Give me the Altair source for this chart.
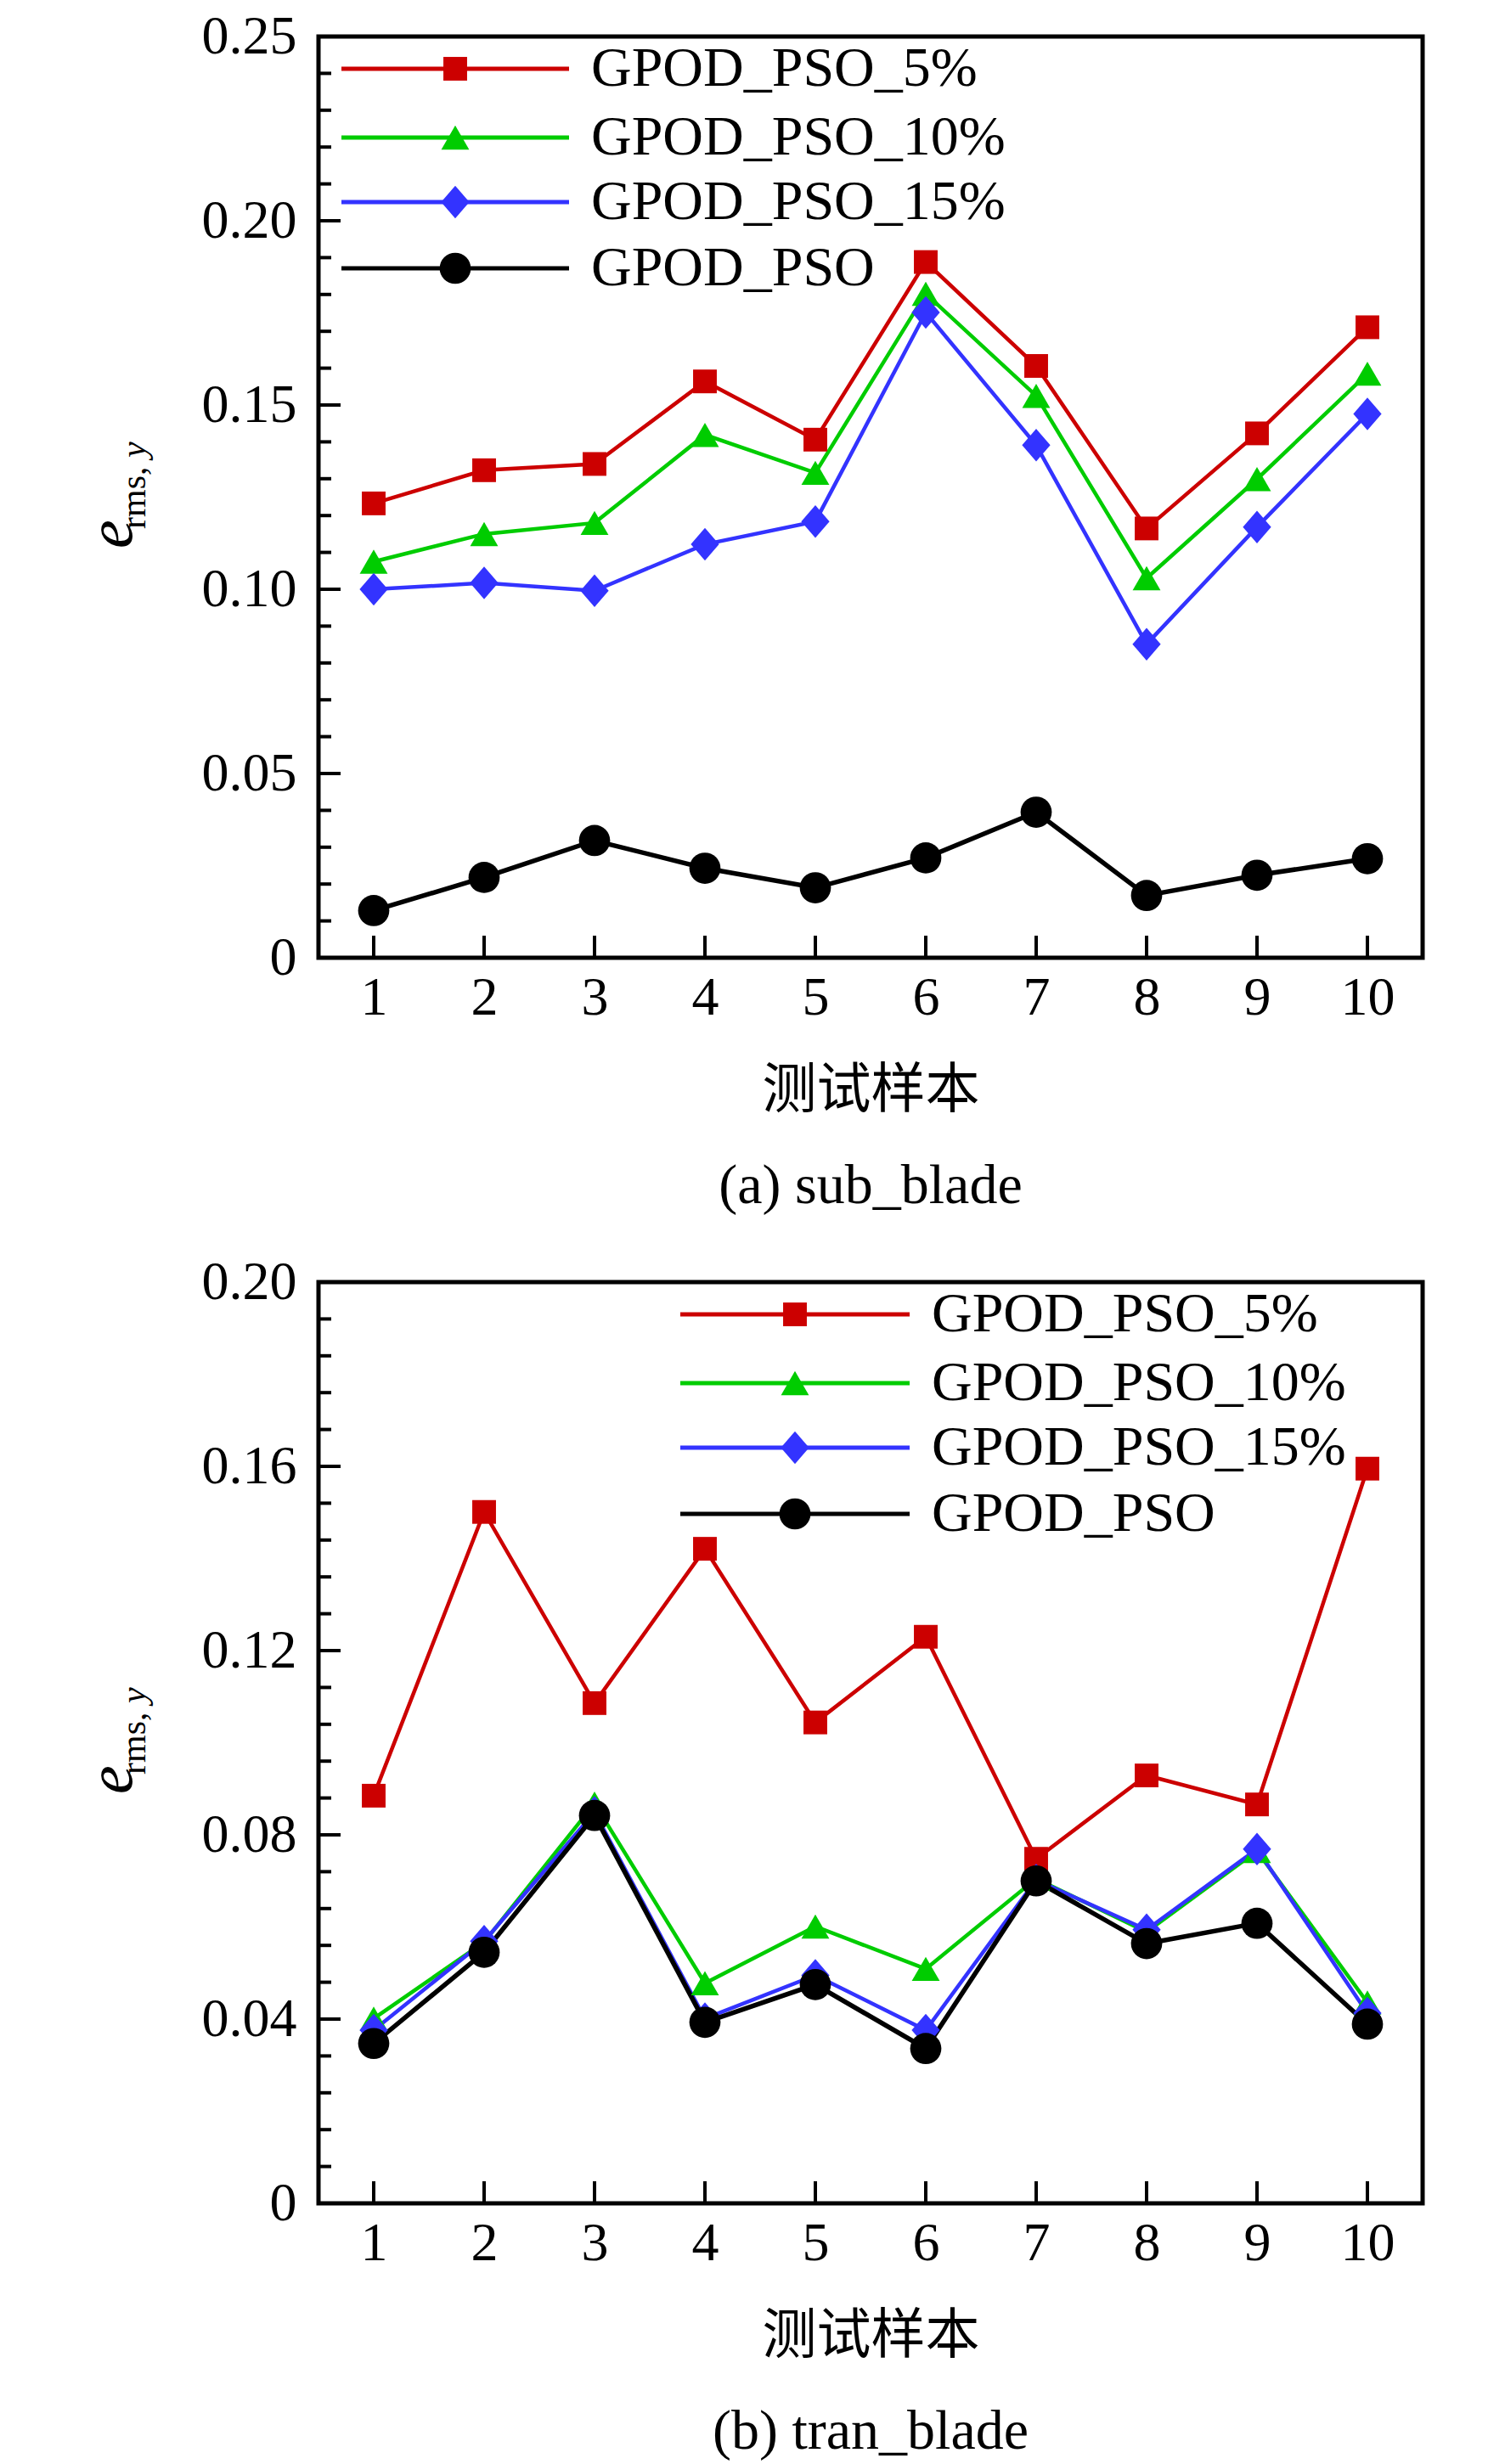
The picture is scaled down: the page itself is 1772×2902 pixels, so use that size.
import altair as alt
import pandas as pd

# ---------------- data ----------------
SAMPLES = [1, 2, 3, 4, 5, 6, 7, 8, 9, 10]
SERIES = ["GPOD_PSO_5%", "GPOD_PSO_10%", "GPOD_PSO_15%", "GPOD_PSO"]

# (a) sub_blade
A_5 = [0.1233, 0.1323, 0.1340, 0.1564, 0.1406, 0.1888, 0.1606, 0.1165, 0.1423, 0.1711]
A_10 = [0.1075, 0.1150, 0.1180, 0.1419, 0.1316, 0.1802, 0.1525, 0.1030, 0.1299, 0.1585]
A_15 = [0.1000, 0.1017, 0.0996, 0.1122, 0.1184, 0.1751, 0.1391, 0.0851, 0.1169, 0.1476]
A_0 = [0.0128, 0.0218, 0.0318, 0.0243, 0.0190, 0.0271, 0.0395, 0.0169, 0.0224, 0.0269]

# (b) tran_blade
B_5 = [0.0885, 0.1501, 0.1086, 0.1421, 0.1044, 0.1230, 0.0748, 0.0929, 0.0866, 0.1595]
B_10 = [0.0401, 0.0567, 0.0868, 0.0478, 0.0601, 0.0509, 0.0705, 0.0589, 0.0765, 0.0436]
B_15 = [0.0376, 0.0569, 0.0849, 0.0401, 0.0495, 0.0376, 0.0702, 0.0594, 0.0769, 0.0413]
B_0 = [0.0347, 0.0545, 0.0842, 0.0393, 0.0475, 0.0336, 0.0700, 0.0564, 0.0608, 0.0389]

A_MAJOR = [0, 0.05, 0.10, 0.15, 0.20, 0.25]
A_MINOR = [0.01, 0.02, 0.03, 0.04, 0.06, 0.07, 0.08, 0.09, 0.11, 0.12, 0.13, 0.14,
           0.16, 0.17, 0.18, 0.19, 0.21, 0.22, 0.23, 0.24]
B_MAJOR = [0, 0.04, 0.08, 0.12, 0.16, 0.20]
B_MINOR = [0.008, 0.016, 0.024, 0.032, 0.048, 0.056, 0.064, 0.072, 0.088, 0.096,
           0.104, 0.112, 0.128, 0.136, 0.144, 0.152, 0.168, 0.176, 0.184, 0.192]

X_TITLE = "测试样本"
CAPTIONS = ["(a) sub_blade", "(b) tran_blade"]

# ---------------- styles ----------------
COLORS = ["#cc0000", "#00cc00", "#3333ff", "#000000"]
DIAMOND = "M0,-1.1L0.95,0L0,1.1L-0.95,0Z"
SHAPES = ["square", "triangle-up", DIAMOND, "circle"]
SIZES = [780, 1080, 1225, 1350]
LINE_W = [4.5, 4.5, 4.5, 5.5]

W, H = 1300, 1085
SERIF = "Liberation Serif"
CJK = "Noto Sans CJK SC"
ROWS = [38, 119, 195, 273]


def panel(values, ymax, major, minor, caption, leg_x0, leg_x1, leg_mk, leg_tx):
    xs = alt.Scale(domain=[0.5, 10.5], nice=False, zero=False)
    ys = alt.Scale(domain=[0, ymax], nice=False, zero=True)
    xaxis = alt.Axis(values=SAMPLES, ticks=False, domain=False, grid=False,
                     labelPadding=15, title=X_TITLE, titlePadding=45,
                     titleFont=CJK, titleFontSize=64, titleFontWeight="normal",
                     titleColor="black", labelFlush=False)
    yaxis = alt.Axis(values=major, ticks=False, domain=False, grid=False,
                     labelPadding=26, title="",
                     labelExpr="datum.value === 0 ? '0' : format(datum.value, '.2f')")
    layers = []
    frames = []
    for i, name in enumerate(SERIES):
        frames.append(pd.DataFrame({"sample": SAMPLES, "value": values[i]}))
    for i in range(4):
        layers.append(
            alt.Chart(frames[i]).mark_line(color=COLORS[i], strokeWidth=LINE_W[i]).encode(
                x=alt.X("sample:Q", scale=xs, axis=xaxis),
                y=alt.Y("value:Q", scale=ys, axis=yaxis),
            )
        )
    for i in range(4):
        layers.append(
            alt.Chart(frames[i]).mark_point(
                shape=SHAPES[i], size=SIZES[i], filled=True, color=COLORS[i], opacity=1
            ).encode(
                x=alt.X("sample:Q", scale=xs, axis=xaxis),
                y=alt.Y("value:Q", scale=ys, axis=yaxis),
            )
        )
    # inward ticks
    layers.append(
        alt.Chart(pd.DataFrame({"v": major})).mark_rule(color="black", strokeWidth=4).encode(
            y=alt.Y("v:Q", scale=ys, axis=yaxis), x=alt.value(0), x2=alt.value(26)
        )
    )
    layers.append(
        alt.Chart(pd.DataFrame({"v": minor})).mark_rule(color="black", strokeWidth=4).encode(
            y=alt.Y("v:Q", scale=ys, axis=yaxis), x=alt.value(0), x2=alt.value(15)
        )
    )
    layers.append(
        alt.Chart(pd.DataFrame({"v": SAMPLES})).mark_rule(color="black", strokeWidth=4).encode(
            x=alt.X("v:Q", scale=xs, axis=xaxis), y=alt.value(H), y2=alt.value(H - 26)
        )
    )
    # legend
    leg = pd.DataFrame({"name": SERIES})
    for i, name in enumerate(SERIES):
        base = alt.Chart(leg).transform_filter(alt.datum.name == name)
        layers.append(base.mark_rule(color=COLORS[i], strokeWidth=5).encode(
            x=alt.value(leg_x0), x2=alt.value(leg_x1), y=alt.value(ROWS[i])))
        layers.append(base.mark_point(shape=SHAPES[i], size=SIZES[i], filled=True,
                                      color=COLORS[i], opacity=1).encode(
            x=alt.value(leg_mk), y=alt.value(ROWS[i])))
        layers.append(base.mark_text(font=SERIF, fontSize=66, align="left",
                                     baseline="middle", color="black").encode(
            text="name:N", x=alt.value(leg_tx), y=alt.value(ROWS[i])))
    # y title e_{rms, y}
    ttl = pd.DataFrame({"e": ["e"], "sub": ["rms,"], "yy": ["y"], "cap": [caption]})
    tb = alt.Chart(ttl)
    layers.append(tb.mark_text(font=SERIF, fontSize=76, fontStyle="italic", angle=270,
                               align="left", baseline="alphabetic", color="black").encode(
        text="e:N", x=alt.value(-220), y=alt.value(603)))
    layers.append(tb.mark_text(font=SERIF, fontSize=42, angle=270,
                               align="left", baseline="alphabetic", color="black").encode(
        text="sub:N", x=alt.value(-204), y=alt.value(580)))
    layers.append(tb.mark_text(font=SERIF, fontSize=42, fontStyle="italic", angle=270,
                               align="left", baseline="alphabetic", color="black").encode(
        text="yy:N", x=alt.value(-204), y=alt.value(580 - 84)))
    # caption
    layers.append(tb.mark_text(font=SERIF, fontSize=66, align="center",
                               baseline="middle", color="black").encode(
        text="cap:N", x=alt.value(W / 2), y=alt.value(H + 269)))
    return alt.layer(*layers).properties(width=W, height=H)


pa = panel([A_5, A_10, A_15, A_0], 0.25, A_MAJOR, A_MINOR, CAPTIONS[0], 27, 295, 161, 321)
pb = panel([B_5, B_10, B_15, B_0], 0.20, B_MAJOR, B_MINOR, CAPTIONS[1], 426, 696, 561, 722)

chart = alt.vconcat(pa, pb, spacing=42).properties(
    padding={"left": 83, "top": 0, "right": 5, "bottom": 5}
).configure_view(
    stroke="black", strokeWidth=5
).configure_axis(
    labelFont=SERIF, labelFontSize=64, labelColor="black", grid=False
)

chart.save("out.html", embed_options={"renderer": "svg", "actions": False})
